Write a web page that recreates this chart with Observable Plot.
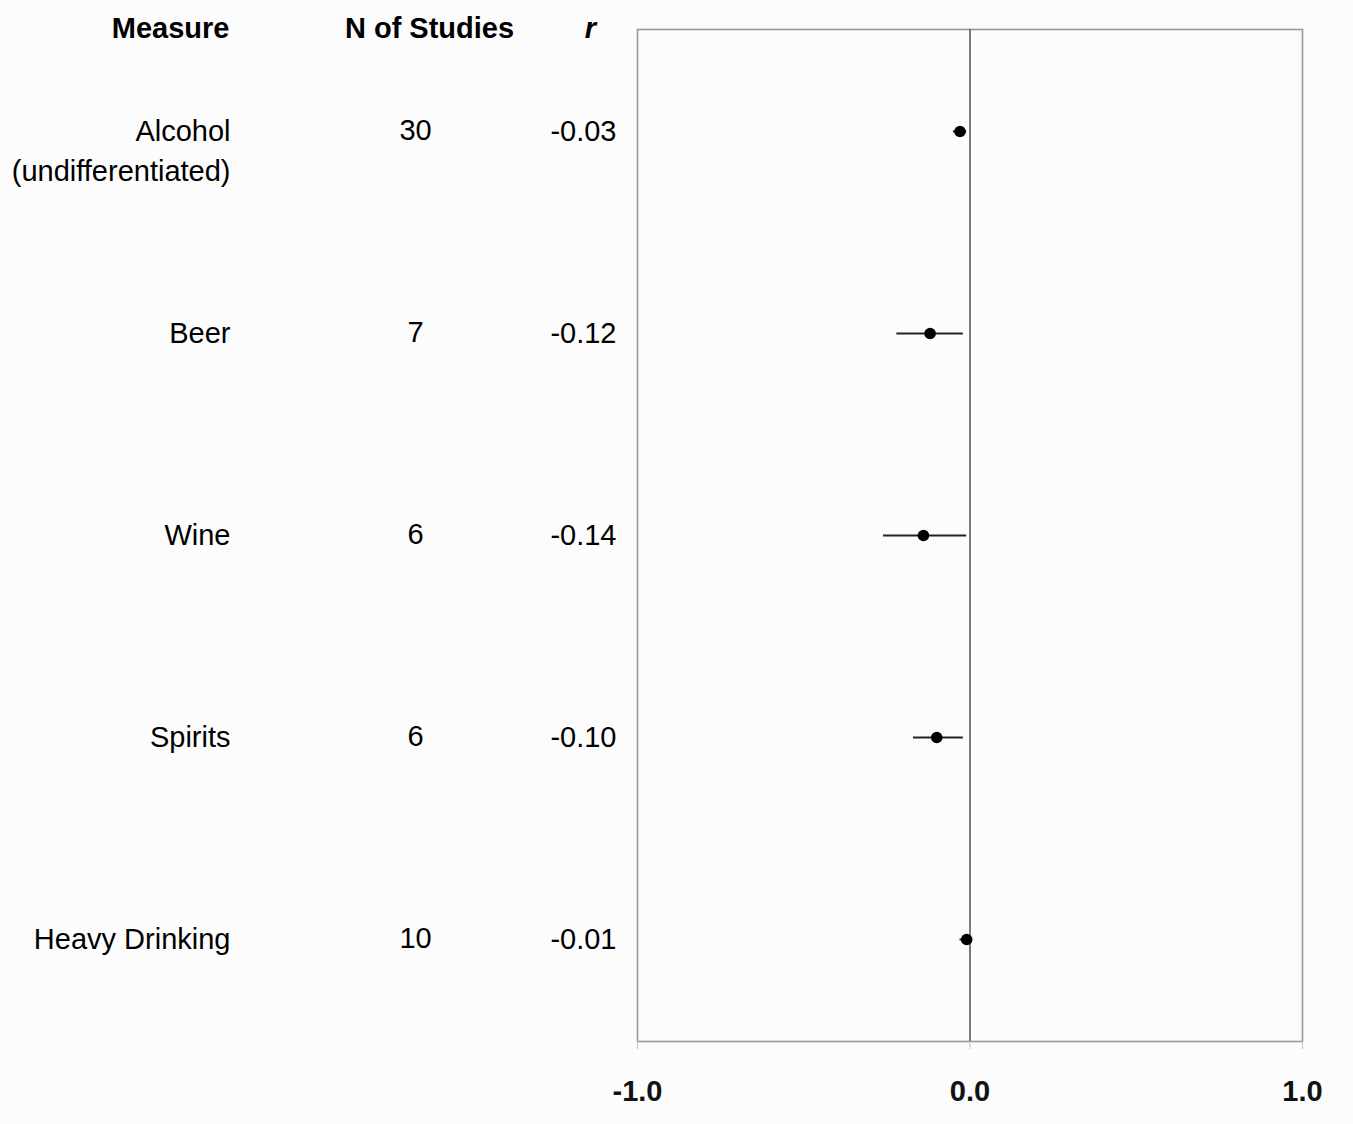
<!DOCTYPE html>
<html>
<head>
<meta charset="utf-8">
<script src="https://cdn.jsdelivr.net/npm/d3@7"></script>
<script src="https://cdn.jsdelivr.net/npm/@observablehq/plot@0.6"></script>
<style>
  html, body { margin: 0; padding: 0; background: #fcfcfc; }
  svg { overflow: visible; display: block; }
</style>
</head>
<body>
<div id="chart"></div>
<script>
const measures = ["Alcohol\n(undifferentiated)", "Beer", "Wine", "Spirits", "Heavy Drinking"];
const nStudies = [30, 7, 6, 6, 10];
const rValues = [-0.03, -0.12, -0.14, -0.10, -0.01];
const ciLow = [-0.05, -0.22, -0.26, -0.17, -0.03];
const ciHigh = [-0.01, -0.02, -0.01, -0.02, 0.00];
const xTicks = [-1, 0, 1];
const headers = ["Measure", "N of Studies", "r"];

const rows = measures.map((m, i) => ({
  measure: m, n: nStudies[i], r: rValues[i], low: ciLow[i], high: ciHigh[i]
}));

const font = "'Liberation Sans', Arial, Helvetica, sans-serif";

const chart = Plot.plot({
  width: 1353,
  height: 1124,
  marginLeft: 637,
  marginRight: 51,
  marginTop: 29,
  marginBottom: 83,
  style: { fontFamily: font, fontSize: "29px", background: "#fcfcfc", color: "#000" },
  x: { domain: [-1, 1] },
  y: { type: "point", domain: measures, padding: 0.5, axis: null },
  marks: [
    Plot.frame({ stroke: "#999", strokeWidth: 1.6 }),
    Plot.ruleX([0], { stroke: "#5a5a5a", strokeWidth: 1.6 }),
    Plot.axisX({
      ticks: xTicks, tickSize: 8, tickPadding: 31, stroke: "#c4c4c4", fill: "#111",
      tickFormat: d => d.toFixed(1), fontSize: 29, fontWeight: "bold", label: null
    }),
    Plot.ruleY(rows, { y: "measure", x1: "low", x2: "high", stroke: "#222", strokeWidth: 2 }),
    Plot.dot(rows, { y: "measure", x: "r", r: 5.8, fill: "#000", stroke: "none" }),
    // table columns
    Plot.text(rows, {
      y: "measure", text: "measure", frameAnchor: "left", dx: -407, dy: -20,
      textAnchor: "end", lineAnchor: "top", lineHeight: 1.41, fill: "#000"
    }),
    Plot.text(rows, {
      y: "measure", text: d => String(d.n), frameAnchor: "left", dx: -222, dy: -1,
      textAnchor: "middle", lineAnchor: "middle", fill: "#000"
    }),
    Plot.text(rows, {
      y: "measure", text: d => d.r.toFixed(2), frameAnchor: "left", dx: -21, dy: 0,
      textAnchor: "end", lineAnchor: "middle", fill: "#000"
    }),
    // headers
    Plot.text([headers[0]], {
      text: d => d, frameAnchor: "top-left", dx: -408, dy: -1,
      textAnchor: "end", lineAnchor: "middle", fontWeight: "bold", fill: "#000"
    }),
    Plot.text([headers[1]], {
      text: d => d, frameAnchor: "top-left", dx: -208, dy: -1,
      textAnchor: "middle", lineAnchor: "middle", fontWeight: "bold", fill: "#000"
    }),
    Plot.text([headers[2]], {
      text: d => d, frameAnchor: "top-left", dx: -47, dy: -1,
      textAnchor: "middle", lineAnchor: "middle", fontWeight: "bold", fontStyle: "italic", fill: "#000"
    })
  ]
});
document.getElementById("chart").appendChild(chart);
</script>
</body>
</html>
